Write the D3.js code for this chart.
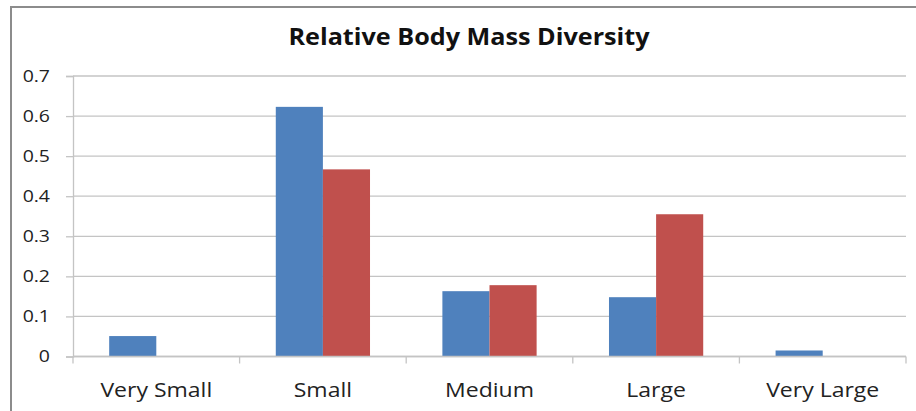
<!DOCTYPE html>
<html>
<head>
<meta charset="utf-8">
<script src="https://cdn.jsdelivr.net/npm/d3@7/dist/d3.min.js"></script>
<style>
  html, body { margin: 0; padding: 0; background: #fff; }
  svg { display: block; }
</style>
</head>
<body>
<svg id="chart" width="916" height="411"></svg>
<script>
// Size classes along the x axis
const categories = ["Very Small", "Small", "Medium", "Large", "Very Large"];
// Two series of relative diversity values (blue, red)
const seriesA = [0.051, 0.623, 0.163, 0.148, 0.015];
const seriesB = [0, 0.467, 0.178, 0.355, 0];
const yTicks = [0, 0.1, 0.2, 0.3, 0.4, 0.5, 0.6, 0.7];
const titleText = "Relative Body Mass Diversity";

const colors = ["#4F81BD", "#C0504D"];
const svg = d3.select("#chart");
const W = 916, H = 411;
const margin = { left: 73, top: 76 };
const plotRight = 906;
const plotBottom = 356.5;
const stretch = 1.18; // wide label letterforms

// Outer chart frame
svg.append("rect")
  .attr("x", 11).attr("y", 7)
  .attr("width", W + 10).attr("height", H + 10)
  .attr("fill", "none").attr("stroke", "#8c8c8c").attr("stroke-width", 2);

const x = d3.scaleBand().domain(categories).range([margin.left, plotRight]).paddingInner(0).paddingOuter(0);
const y = d3.scaleLinear().domain([0, 0.7]).range([plotBottom, margin.top]);
const inner = d3.scaleBand().domain([0, 1]).range([0, x.bandwidth()]).paddingOuter(0.768).paddingInner(0);

// Gridlines
svg.append("g")
  .selectAll("line")
  .data(yTicks)
  .join("line")
  .attr("x1", margin.left).attr("x2", plotRight)
  .attr("y1", d => y(d)).attr("y2", d => y(d))
  .attr("stroke", "#c4c4c4").attr("stroke-width", 1.3);

// Bars
const rows = categories.map((c, i) => ({ c, vals: [seriesA[i], seriesB[i]] }));
svg.append("g")
  .selectAll("g")
  .data(rows)
  .join("g")
  .attr("transform", d => `translate(${x(d.c)},0)`)
  .selectAll("rect")
  .data(d => d.vals.map((v, k) => ({ v, k })).filter(e => e.v > 0))
  .join("rect")
  .attr("x", d => inner(d.k))
  .attr("width", inner.bandwidth())
  .attr("y", d => y(d.v))
  .attr("height", d => plotBottom - y(d.v))
  .attr("fill", d => colors[d.k]);

// Y axis
const yAxis = svg.append("g")
  .attr("transform", `translate(${margin.left},0)`)
  .call(d3.axisLeft(y).tickValues(yTicks).tickFormat(d => d === 0 ? "0" : d3.format(".1f")(d)).tickSize(7).tickPadding(0));
yAxis.select(".domain").attr("stroke", "#c4c4c4").attr("stroke-width", 1.3);
yAxis.selectAll(".tick line").attr("stroke", "#c4c4c4").attr("stroke-width", 1.3);
yAxis.selectAll(".tick text")
  .attr("x", 0)
  .attr("transform", `translate(-23,0) scale(${stretch},1)`)
  .attr("fill", "#222")
  .style("font-family", "'Open Sans', sans-serif")
  .style("font-size", "16.5px");

// X axis with ticks at category boundaries
const xAxis = svg.append("g").attr("transform", `translate(0,${plotBottom})`);
xAxis.append("line")
  .attr("x1", margin.left).attr("x2", plotRight)
  .attr("stroke", "#c4c4c4").attr("stroke-width", 1.3);
const bounds = categories.map(c => x(c)).concat([x(categories[categories.length - 1]) + x.bandwidth()]);
xAxis.selectAll("line.bt")
  .data(bounds)
  .join("line")
  .attr("class", "bt")
  .attr("x1", d => d).attr("x2", d => d)
  .attr("y1", 0).attr("y2", 7)
  .attr("stroke", "#c4c4c4").attr("stroke-width", 1.3);
xAxis.selectAll("text")
  .data(categories)
  .join("text")
  .attr("transform", d => `translate(${x(d) + x.bandwidth() / 2},40) scale(${stretch},1)`)
  .attr("text-anchor", "middle")
  .attr("fill", "#222")
  .style("font-family", "'Open Sans', sans-serif")
  .style("font-size", "19.5px")
  .text(d => d);

// Title
svg.append("text")
  .attr("transform", "translate(469,45) scale(1.05,1)")
  .attr("text-anchor", "middle")
  .attr("fill", "#111")
  .style("font-family", "'Open Sans', sans-serif")
  .style("font-weight", "bold")
  .style("font-size", "24px")
  .text(titleText);
</script>
</body>
</html>
